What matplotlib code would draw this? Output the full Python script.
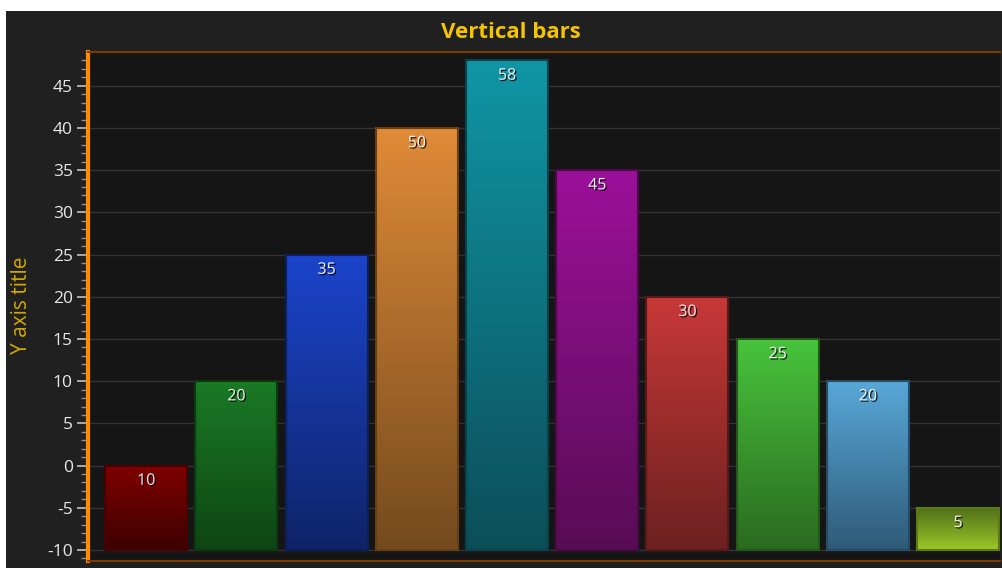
import numpy as np
import matplotlib.pyplot as plt
from matplotlib.patches import Rectangle
from matplotlib.colors import LinearSegmentedColormap
from matplotlib import patheffects

plt.rcParams['font.family'] = ['Open Sans', 'DejaVu Sans']
plt.rcParams['axes.unicode_minus'] = False

# bar data: every bar starts at the baseline and the label shows its height
baseline = -10
values = [10, 20, 35, 50, 58, 45, 30, 25, 20, 5]
top_colors = ['#800000', '#1a7a25', '#1b44cc', '#e08b38', '#1096a6',
              '#9c109a', '#c83838', '#48c43c', '#58a8d8', '#4e6e18']
bottom_colors = ['#3c0000', '#0e4514', '#0f2468', '#744a1e', '#0b4e58',
                 '#580c55', '#6c2020', '#2a6a20', '#2e5a78', '#9cc828']
edge_colors = ['#4a0000', '#0c3a10', '#0c1f5a', '#6a3f12', '#08424a',
               '#4a0a48', '#5a1818', '#23581a', '#264c66', '#5a7a14']
yticks = [-10, -5, 0, 5, 10, 15, 20, 25, 30, 35, 40, 45]

W, H = 1002, 568
fig = plt.figure(figsize=(W / 100, H / 100), dpi=100, facecolor='white')
fig.patches.append(Rectangle((6 / W, 0), 1 - 6 / W, 1 - 11 / H,
                             transform=fig.transFigure, facecolor='#202020',
                             edgecolor='none', zorder=-10))

ax = fig.add_axes([88 / W, 7 / H, (1000 - 88) / W, (561 - 52) / H])
ax.set_facecolor('#151515')

x = np.arange(len(values))
width = 0.91
bars = ax.bar(x, values, bottom=baseline, width=width, facecolor='none',
              edgecolor=edge_colors, linewidth=1.5, zorder=3)

for i, b in enumerate(bars):
    cmap = LinearSegmentedColormap.from_list('g', [bottom_colors[i], top_colors[i]])
    grad = np.linspace(0, 1, 256).reshape(-1, 1)
    x0 = b.get_x()
    y0 = b.get_y()
    im = ax.imshow(grad, cmap=cmap, origin='lower', aspect='auto',
                   extent=[x0, x0 + b.get_width(), y0, y0 + b.get_height()],
                   zorder=2)
    im.set_clip_path(b)
    top = baseline + values[i]
    ax.text(x[i], top - 1.8, str(values[i]), ha='center', va='center',
            color='#f0f0f0', fontsize=11.5, zorder=5,
            path_effects=[patheffects.withSimplePatchShadow(offset=(1, -1),
                                                            shadow_rgbFace='black',
                                                            alpha=0.8)])

ax.set_xlim(-0.645, 9.465)
ax.set_ylim(-11.3, 49)
ax.set_yticks(yticks)
ax.set_yticks(np.arange(-11, 49, 1), minor=True)
ax.set_xticks([])
ax.yaxis.grid(True, color='#333333', linewidth=1, zorder=0)
ax.set_axisbelow(True)

ax.tick_params(axis='y', which='major', length=8, width=1.2, color='#c0c0c0',
               labelcolor='#e8e8e8', labelsize=12.5, pad=3)
ax.tick_params(axis='y', which='minor', length=5, width=1, color='#909090')

ax.spines['left'].set_color('#ff8c00')
ax.spines['left'].set_linewidth(3)
ax.spines['top'].set_color('#7a3c00')
ax.spines['top'].set_linewidth(1.5)
ax.spines['bottom'].set_color('#7a3c00')
ax.spines['bottom'].set_linewidth(1.5)
ax.spines['right'].set_visible(False)

fig.text(511 / W, 1 - 33 / H, 'Vertical bars', ha='center', va='center',
         color='#f5c400', fontsize=16, fontweight='bold')
fig.text(22 / W, 1 - 305 / H, 'Y axis title', ha='center', va='center',
         rotation=90, color='#d4a800', fontsize=15)

fig.savefig('out.png', dpi=100, facecolor=fig.get_facecolor())
